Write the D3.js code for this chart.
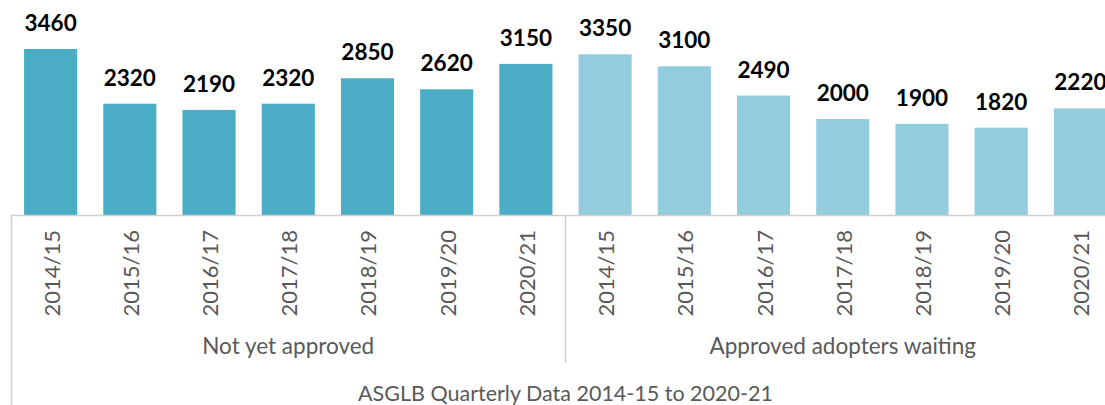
<!DOCTYPE html>
<html><head><meta charset="utf-8">
<script src="https://cdn.jsdelivr.net/npm/d3@7"></script>
<style>body{margin:0;background:#fff;}svg{display:block;}</style>
</head><body>
<svg id="c" width="1105" height="405"></svg>
<script>
const years = ["2014/15","2015/16","2016/17","2017/18","2018/19","2019/20","2020/21"];
const groups = ["Not yet approved","Approved adopters waiting"];
const notYetApproved = [3460,2320,2190,2320,2850,2620,3150];
const approvedWaiting = [3350,3100,2490,2000,1900,1820,2220];
const groupColors = ["#4BACC6","#93CDDD"];
const title = "ASGLB Quarterly Data 2014-15 to 2020-21";

const rows = [];
[notYetApproved, approvedWaiting].forEach((arr,gi)=>arr.forEach((v,i)=>rows.push({g:gi,year:years[i],v,key:gi+"-"+i})));

const svg = d3.select("#c");
const left = 11, right = 1120, base = 215;
const x = d3.scaleBand().domain(rows.map(r=>r.key)).range([left,right]).paddingInner(0.33).paddingOuter(0.165);
const y = d3.scaleLinear().domain([0,4000]).range([base, base-191.9]);
const font = "Lato, 'Open Sans', sans-serif";

svg.selectAll("rect.bar").data(rows).enter().append("rect")
  .attr("x",d=>x(d.key)).attr("width",x.bandwidth())
  .attr("y",d=>y(d.v)).attr("height",d=>base-y(d.v))
  .attr("fill",d=>groupColors[d.g]);

svg.selectAll("text.val").data(rows).enter().append("text")
  .attr("x",d=>x(d.key)+x.bandwidth()/2).attr("y",d=>y(d.v)-18)
  .attr("text-anchor","middle").attr("font-family",font).attr("font-weight","bold")
  .attr("font-size",22.5).attr("fill","#000").text(d=>d.v);

// axis lines
const lineCol = "#d0d0d0";
svg.append("line").attr("x1",left).attr("x2",right).attr("y1",base+0.5).attr("y2",base+0.5).attr("stroke",lineCol).attr("stroke-width",1.5);
svg.append("line").attr("x1",left+0.5).attr("x2",left+0.5).attr("y1",base).attr("y2",405).attr("stroke",lineCol).attr("stroke-width",1.5);
const mid = x.step()*7 + left;
svg.append("line").attr("x1",mid).attr("x2",mid).attr("y1",base).attr("y2",363).attr("stroke",lineCol).attr("stroke-width",1.5);

// tick labels
svg.selectAll("text.tick").data(rows).enter().append("text")
  .attr("transform",d=>`translate(${x(d.key)+x.bandwidth()/2+9},230) rotate(-90)`)
  .attr("text-anchor","end").attr("font-family",font).attr("font-size",22).attr("fill","#595959")
  .text(d=>d.year);

// group labels
groups.forEach((g,gi)=>{
  const gx = left + x.step()*7*gi + x.step()*3.5;
  svg.append("text").attr("x",gx).attr("y",354).attr("text-anchor","middle")
    .attr("font-family",font).attr("font-size",22.5).attr("fill","#595959").text(g);
});
svg.append("text").attr("x",mid).attr("y",401).attr("text-anchor","middle")
  .attr("font-family",font).attr("font-size",21.5).attr("fill","#595959").text(title);
</script>
</body></html>
